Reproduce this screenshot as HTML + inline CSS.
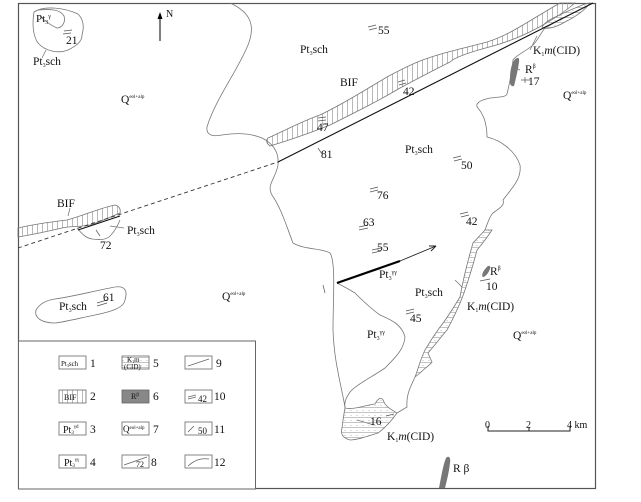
<!DOCTYPE html>
<html><head><meta charset="utf-8"><style>
html,body{margin:0;padding:0;background:#fff;}
svg{display:block;}
text{font-family:"Liberation Serif","DejaVu Serif",serif;}
</style></head><body>
<svg width="641" height="502" viewBox="0 0 641 502" xmlns="http://www.w3.org/2000/svg" font-family="Liberation Serif, serif">
<defs>
<pattern id="vl" width="5" height="5" patternUnits="userSpaceOnUse"><path d="M2.5 0V5" stroke="#999" stroke-width="0.7"/></pattern>
<pattern id="hl" width="6" height="5" patternUnits="userSpaceOnUse"><path d="M0 2.5H6" stroke="#aaa" stroke-width="0.7"/><circle cx="3" cy="0.5" r="0.4" fill="#666"/></pattern>
</defs>
<rect x="18.5" y="3.5" width="577" height="485" fill="#fff" stroke="#555" stroke-width="1.2"/>
<g fill="none" stroke="#777" stroke-width="0.8">
<path d="M230 3 C250 12 256 25 248 45 C238 70 215 100 207 127 C206 135 212 137 222 135 C240 132 252 134 262 138 C276 145 279 155 278 165 C276 178 266 185 272 195 C282 210 286 225 293 243 C305 250 322 248 330 253 C336 262 333 300 333 330 C334 360 340 380 345 407"/>
<path d="M397 413 L407 407 C406 395 410 388 415 377"/>
<path d="M485 230 C488 222 490 216 493 213 C500 208 505 205 503 200 C510 190 522 180 520 165 C515 150 500 140 487 137 C487 125 484 115 478 108 C474 104 480 100 490 98 C500 97 506 97 507 94 C510 82 512 70 513 60 C516 55 525 52 533 45 C538 40 540 34 545 28 C550 25 556 22 562 18"/>
<path d="M337 283 C343 286 350 290 355 293 C362 300 370 308 380 315 C392 320 402 325 405 337 C404 348 398 355 385 368 C370 378 356 385 350 392 C346 398 344 402 345 408"/>
<path d="M34 12 C45 5 65 8 78 14 C84 20 84 28 82 35 C82 42 76 46 68 50 C58 54 45 51 38 43 C33 36 32 24 34 12Z"/>
<path d="M38 10 C50 9 60 9 64 16 C66 22 62 28 57 28 C50 25 44 20 40 16"/>
<path d="M46 50 L42 58"/>
<path d="M36 310 C40 303 48 300 55 299 C70 297 90 292 110 288 C125 284 128 290 125 300 C124 308 110 312 95 315 C80 318 65 322 55 323 C42 323 34 318 36 310Z"/>
<path d="M77 228 C82 234 86 238 92 239 C100 240 106 240 110 236 C114 232 118 225 120 220"/>
<path d="M110 226 L124 228"/>
<path d="M374 425 L357 420"/>
<path d="M530 50 L537 36"/>
<path d="M70 208 L68 216"/>
<path d="M455 280 L462 287"/>
<path d="M520 70 L515 68"/>
</g>
<path d="M268 138 C290 128 305 120 320 115 C345 103 365 90 387 77 C400 70 410 65 420 61 C440 53 465 48 487 42 C510 35 530 20 560 3 L575 3 C555 20 525 37 493 46 C470 52 455 57 450 62 C430 72 415 80 400 88 C380 100 360 110 330 125 C310 133 290 140 270 146 C266 143 266 140 268 138Z" fill="url(#vl)" stroke="#777" stroke-width="0.8"/>
<path d="M18 228 C35 224 50 222 67 220 C85 215 100 208 115 205 C119 206 121 209 120 213 C110 217 100 222 90 225 C80 227 70 226 62 228 C45 232 30 235 18 237Z" fill="url(#vl)" stroke="#777" stroke-width="0.8"/>
<path d="M485 230 L473 243 C468 260 463 280 460 297 C452 310 446 320 440 327 C432 338 428 345 425 350 C420 360 418 370 415 377 L420 373 C425 368 430 365 432 362 C430 358 429 355 428 353 C435 345 441 337 447 330 C455 315 461 302 465 290 C470 275 474 262 477 250 C483 243 488 236 492 230Z" fill="url(#hl)" stroke="#777" stroke-width="0.8"/>
<path d="M560 15 C565 12 575 8 585 4 L590 3 C585 10 575 17 565 22 C555 28 545 30 542 27 C545 22 552 18 560 15Z" fill="url(#hl)" stroke="#777" stroke-width="0.8"/>
<path d="M345 408 C355 410 365 405 375 404 C378 398 382 396 384 402 C386 407 392 410 397 413 C392 420 385 428 378 433 C368 436 358 440 350 440 C343 438 340 434 342 428 C343 420 344 413 345 408Z" fill="url(#hl)" stroke="#777" stroke-width="0.8"/>
<path d="M18 248 L278 162" stroke="#333" stroke-width="0.9" stroke-dasharray="4,3" fill="none"/>
<path d="M278 162 L593 3" stroke="#111" stroke-width="1.1" fill="none"/>
<path d="M337 283 L400 261" stroke="#000" stroke-width="2.2"/>
<path d="M400 261 L436 246" stroke="#222" stroke-width="0.9"/>
<path d="M436 246 L429 246 M436 246 L431 251" stroke="#222" stroke-width="0.9"/>
<path d="M78 230 L120 216" stroke="#111" stroke-width="1.1"/>
<path d="M513 62 C516 57 520 56 519 62 C518 70 516 78 514 86 C511 87 509 84 510 78 C510 72 511 67 513 62Z" fill="#777"/>
<path d="M486 268 C488 265 491 265 490 269 C488 274 485 277 483 277 C481 276 483 271 486 268Z" fill="#777"/>
<path d="M446 458 C449 455 451 458 450 463 C449 472 447 480 445 488 L439 488 C441 478 443 465 446 458Z" fill="#777"/>
<path d="M160 41 V14" stroke="#000" stroke-width="1"/>
<path d="M157.5 19 L160 12 L162.5 19Z" fill="#000"/>
<g stroke="#555" stroke-width="0.7" fill="none">
<path d="M64 31 L72 30 M63 34 L71 33"/>
<path d="M368 27 L376 25 M369 30 L377 28"/>
<path d="M398 82 L405 80 M399 85 L406 83"/>
<path d="M318 118 L326 117 M318 121 L326 120"/>
<path d="M453 158 L461 156 M454 161 L462 159"/>
<path d="M370 189 L378 187 M370 192 L378 190"/>
<path d="M359 227 L368 225 M359 230 L368 228"/>
<path d="M372 250 L381 248 M372 253 L381 251"/>
<path d="M406 311 L414 309 M406 314 L414 312"/>
<path d="M460 214 L468 212 M461 217 L469 215"/>
<path d="M97 303 L107 300 M97 306 L107 303"/>
<path d="M386 416 L394 414"/>
<path d="M521 80 L530 80 M525 77 L525 83"/>
<path d="M480 281 L490 279"/>
<path d="M318 148 L322 154 M96 230 L100 236 M323 285 L325 293"/>
</g>
<g font-size="11.5" fill="#111" font-family="Liberation Serif, serif">
<text x="36" y="22" font-size="11">Pt<tspan font-size="6" dy="2">3</tspan><tspan font-size="6" dy="-6">γ</tspan></text>
<text x="66" y="44">21</text>
<text x="33" y="65">Pt<tspan font-size="6" dy="2">3</tspan><tspan dy="-2">sch</tspan></text>
<text x="166" y="17" font-size="10">N</text>
<text x="121" y="103">Q<tspan font-size="5" dy="-5">eol+alp</tspan></text>
<text x="300" y="53">Pt<tspan font-size="6" dy="2">3</tspan><tspan dy="-2">sch</tspan></text>
<text x="378" y="34">55</text>
<text x="340" y="86">BIF</text>
<text x="403" y="95">42</text>
<text x="317" y="131">47</text>
<text x="321" y="158">81</text>
<text x="405" y="153">Pt<tspan font-size="6" dy="2">3</tspan><tspan dy="-2">sch</tspan></text>
<text x="461" y="169">50</text>
<text x="377" y="199">76</text>
<text x="363" y="226">63</text>
<text x="377" y="251">55</text>
<text x="466" y="225">42</text>
<text x="57" y="207">BIF</text>
<text x="100" y="249">72</text>
<text x="127" y="234">Pt<tspan font-size="6" dy="2">3</tspan><tspan dy="-2">sch</tspan></text>
<text x="59" y="310">Pt<tspan font-size="6" dy="2">3</tspan><tspan dy="-2">sch</tspan></text>
<text x="103" y="301">61</text>
<text x="222" y="300">Q<tspan font-size="5" dy="-5">eol+alp</tspan></text>
<text x="379" y="278">Pt<tspan font-size="6" dy="2">3</tspan><tspan font-size="6" dy="-6">γγ</tspan></text>
<text x="415" y="296">Pt<tspan font-size="6" dy="2">3</tspan><tspan dy="-2">sch</tspan></text>
<text x="410" y="322">45</text>
<text x="367" y="338">Pt<tspan font-size="6" dy="2">3</tspan><tspan font-size="6" dy="-6">γγ</tspan></text>
<text x="467" y="310">K<tspan font-size="6" dy="2">1</tspan><tspan dy="-2" font-style="italic">m</tspan>(CID)</text>
<text x="490" y="275">R<tspan font-size="6" dy="-5">β</tspan></text>
<text x="486" y="290">10</text>
<text x="533" y="54">K<tspan font-size="6" dy="2">1</tspan><tspan dy="-2" font-style="italic">m</tspan>(CID)</text>
<text x="525" y="73">R<tspan font-size="6" dy="-5">β</tspan></text>
<text x="528" y="85">17</text>
<text x="563" y="99">Q<tspan font-size="5" dy="-5">eol+alp</tspan></text>
<text x="513" y="339">Q<tspan font-size="5" dy="-5">eol+alp</tspan></text>
<text x="370" y="425">16</text>
<text x="387" y="440">K<tspan font-size="6" dy="2">1</tspan><tspan dy="-2" font-style="italic">m</tspan>(CID)</text>
<text x="453" y="472">R β</text>
<text x="485" y="428" font-size="10">0</text>
<text x="526" y="428" font-size="10">2</text>
<text x="567" y="428" font-size="10">4 km</text>
</g>
<path d="M488 426 V431 H570 V426 M529 431 V427" stroke="#222" stroke-width="1" fill="none"/>
<rect x="18.5" y="341" width="237" height="148" fill="#fff" stroke="#666" stroke-width="1"/>
<g stroke="#666" stroke-width="0.8" fill="#fff">
<rect x="59" y="356" width="27" height="13"/>
<rect x="59" y="390" width="27" height="13" fill="url(#vl)"/>
<rect x="59" y="422" width="27" height="13"/>
<rect x="59" y="455" width="27" height="13"/>
<rect x="122" y="356" width="27" height="13" fill="url(#hl)"/>
<rect x="122" y="390" width="27" height="13" fill="#888"/>
<rect x="122" y="422" width="27" height="13"/>
<rect x="122" y="455" width="27" height="13"/>
<rect x="185" y="356" width="27" height="13"/>
<rect x="185" y="390" width="27" height="13"/>
<rect x="185" y="422" width="27" height="13"/>
<rect x="185" y="455" width="27" height="13"/>
<path d="M188 366 L209 359 M124 465 L147 457 M188 466 C195 460 200 458 209 459" fill="none"/>
<path d="M188 397 L196 395 M188 399 L196 397 M188 432 L194 426" fill="none"/>
</g>
<g font-size="11.5" fill="#111" font-family="Liberation Serif, serif">
<text x="61" y="366" font-size="7">Pt<tspan font-size="4" dy="1">3</tspan><tspan dy="-1">sch</tspan></text><text x="90" y="367">1</text>
<text x="64" y="400" font-size="8">BIF</text><text x="90" y="400">2</text>
<text x="63" y="433" font-size="10">Pt<tspan font-size="5" dy="1">3</tspan><tspan font-size="5" dy="-6">γd</tspan></text><text x="90" y="433">3</text>
<text x="64" y="466" font-size="10">Pt<tspan font-size="5" dy="1">3</tspan><tspan font-size="5" dy="-6">γγ</tspan></text><text x="90" y="466">4</text>
<text x="127" y="362" font-size="7">K<tspan font-size="4" dy="1">1</tspan><tspan dy="-1">m</tspan></text><text x="124" y="369" font-size="7">(CID)</text><text x="153" y="367">5</text>
<text x="131" y="399" font-size="8">R<tspan font-size="5" dy="-3">β</tspan></text><text x="153" y="400">6</text>
<text x="123" y="432" font-size="9">Q<tspan font-size="5" dy="-3">eol+alp</tspan></text><text x="153" y="433">7</text>
<text x="136" y="467" font-size="8">72</text><text x="151" y="466">8</text>
<text x="216" y="367">9</text>
<text x="198" y="402" font-size="9">42</text><text x="214" y="400">10</text>
<text x="198" y="434" font-size="9">50</text><text x="214" y="433">11</text>
<text x="214" y="466">12</text>
</g>
</svg>
</body></html>
